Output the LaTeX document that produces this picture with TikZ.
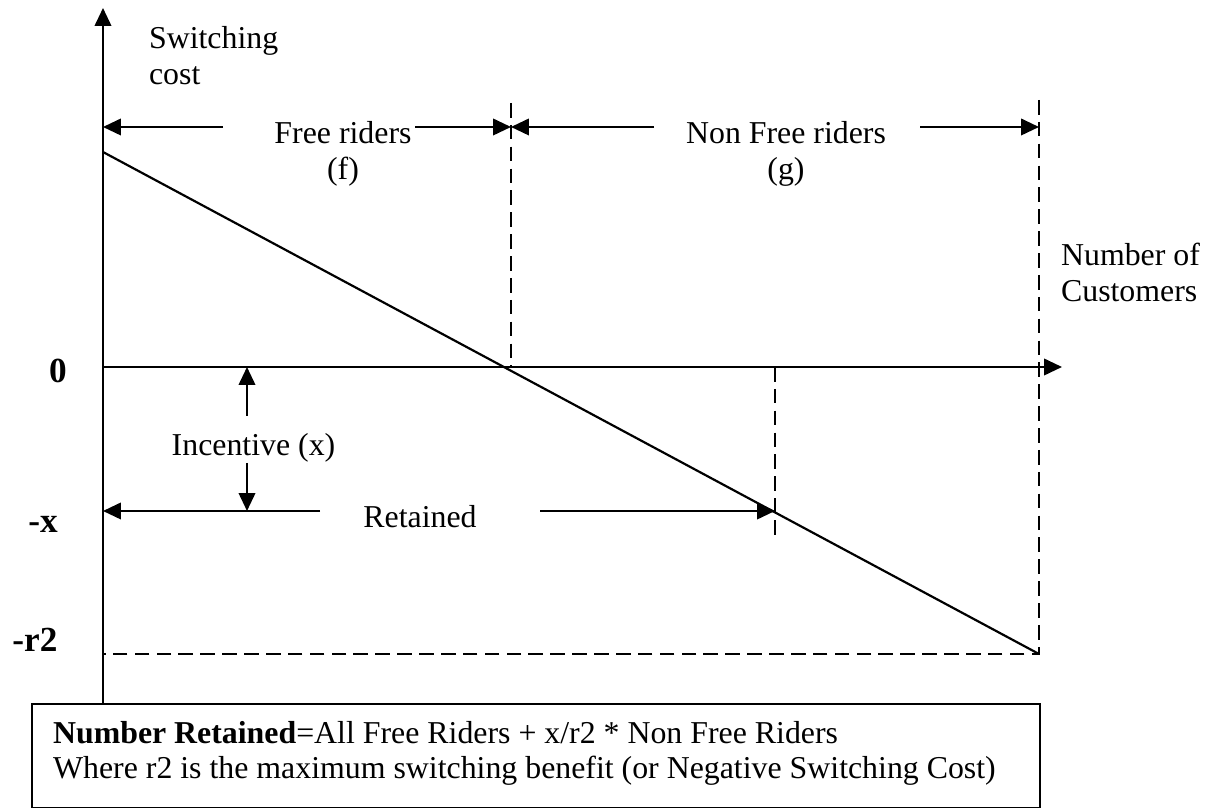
\documentclass[tikz,border=0pt]{standalone}
\usepackage{fontspec}
\setmainfont{Liberation Serif}
\usetikzlibrary{arrows.meta, positioning}
\tikzset{
  tip/.style={-{Triangle[length=7.4pt,width=6.8pt]}},
  guide/.style={dash pattern=on 6pt off 3pt},
  txt/.style={font=\fontsize{13.1}{14.8}\selectfont, inner sep=0pt},
  ylbl/.style={font=\fontsize{14.5}{16}\selectfont\bfseries, inner sep=0pt},
}
\begin{document}
\begin{tikzpicture}[x=0.723cm, y=0.723cm, line width=0.9pt]
  \useasboundingbox (-2.06,-8.82) rectangle (22.38,7.34);

  % summary box
  \node[draw, anchor=north west, minimum width=14.576cm, minimum height=1.504cm, inner sep=0pt] (note) at (-1.44,-6.72) {};
  \node[txt, align=left, anchor=base west] (sum) at (-1.02,-8.24) {\textbf{Number Retained}=All Free Riders + x/r2 * Non Free Riders\\Where r2 is the maximum switching benefit (or Negative Switching Cost)};

  % axes
  \coordinate (o) at (0,0);
  \coordinate (ytop) at (0,7.18);
  \coordinate (xend) at (19.18,0);
  \draw[tip] (note.north -| o) -- (ytop);
  \draw[tip] (o) -- (xend);
  \node[txt, align=left, anchor=west] (ylab) at (0.9,6.22) {Switching\\cost};
  \node[txt, align=left, anchor=west] (xlab) at (19.14,1.9) {Number of\\Customers};

  \node[ylbl, anchor=base] (zero) at (-0.9,-0.32) {0};
  \node[ylbl, anchor=base] (mx) at (-1.2,-3.32) {-x};
  \node[ylbl, anchor=base] (mr) at (-1.36,-5.7) {-r2};

  % switching cost line
  \coordinate (a) at (0,4.3);
  \coordinate (b) at (18.72,-5.74);
  \draw (a) -- (b);

  % dashed guides
  \coordinate (m0) at (8.16,5.28);
  \coordinate (m1) at (8.16,0);
  \coordinate (e0) at (18.72,5.34);
  \coordinate (r0) at (13.44,0);
  \coordinate (r1) at (13.44,-3.36);
  \coordinate (c0) at (0,-5.74);
  \draw[guide] (m0) -- (m1);
  \draw[guide] (e0) -- (b) -- (c0);
  \draw[guide] (r0) -- (r1);

  % riders
  \node[txt, align=center] (free) at (4.8,4.26) {Free riders\\(f)};
  \node[txt, align=center] (nonfree) at (13.66,4.26) {Non Free riders\\(g)};
  \coordinate (fl) at (0,4.8);
  \coordinate (f0) at (2.4,4.8);
  \coordinate (f1) at (6.24,4.8);
  \coordinate (fr) at (8.16,4.8);
  \coordinate (g0) at (11.02,4.8);
  \coordinate (g1) at (16.34,4.8);
  \coordinate (gr) at (18.72,4.8);
  \draw[tip] (f0) -- (fl);
  \draw[tip] (f1) -- (fr);
  \draw[tip] (g0) -- (fr);
  \draw[tip] (g1) -- (gr);

  % incentive and retained
  \node[txt, anchor=base] (inc) at (3.01,-1.78) {Incentive (x)};
  \coordinate (i0) at (2.88,-0.98);
  \coordinate (i1) at (2.88,0);
  \coordinate (i2) at (2.88,-1.92);
  \coordinate (i3) at (2.88,-2.88);
  \draw[tip] (i0) -- (i1);
  \draw[tip] (i2) -- (i3);

  \node[txt, anchor=base] (ret) at (6.34,-3.22) {Retained};
  \coordinate (kl) at (0,-2.88);
  \coordinate (k0) at (4.34,-2.88);
  \coordinate (k1) at (8.74,-2.88);
  \coordinate (kr) at (13.44,-2.88);
  \draw[tip] (k0) -- (kl);
  \draw[tip] (k1) -- (kr);
\end{tikzpicture}
\end{document}
